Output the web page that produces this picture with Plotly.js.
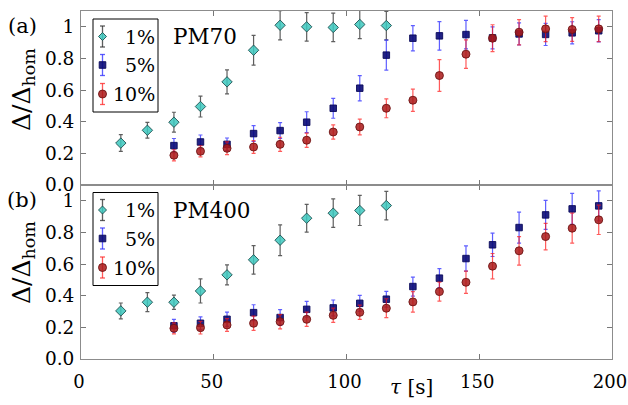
<!DOCTYPE html>
<html>
<head>
<meta charset="utf-8">
<script src="https://cdn.plot.ly/plotly-3.0.1.min.js"></script>
<style>html,body{margin:0;padding:0;background:#fff;}#chart{width:628px;height:405px;}</style>
</head>
<body>
<div id="chart"></div>
<script>
// ---- data ----
const tau1 = [15,25,35,45,55,65,75,85,95,105,115];
const tau510 = [35,45,55,65,75,85,95,105,115,125,135,145,155,165,175,185,195];

const seriesNames = ['1%','5%','10%'];
const panelLabels = ['(a)','(b)'];
const panelNames = ['PM70','PM400'];

// PM70 (panel a)
const a1 = [0.265,0.346,0.397,0.496,0.652,0.852,1.01,1.0,0.996,1.015,1.008];
const a1e = [0.053,0.05,0.063,0.066,0.076,0.094,0.093,0.09,0.09,0.09,0.09];
const a5 = [0.249,0.272,0.257,0.325,0.344,0.397,0.485,0.612,0.821,0.928,0.943,0.951,0.93,0.955,0.952,0.962,0.975];
const a5e = [0.045,0.044,0.04,0.05,0.05,0.066,0.063,0.08,0.095,0.08,0.09,0.09,0.07,0.07,0.07,0.07,0.07];
const a10 = [0.188,0.213,0.232,0.24,0.257,0.283,0.335,0.367,0.485,0.536,0.692,0.827,0.928,0.966,0.987,0.983,0.987];
const a10e = [0.035,0.035,0.04,0.04,0.045,0.045,0.045,0.05,0.06,0.07,0.1,0.09,0.085,0.08,0.08,0.075,0.08];

// PM400 (panel b)
const b1 = [0.304,0.359,0.359,0.430,0.532,0.627,0.751,0.890,0.922,0.939,0.970];
const b1e = [0.05,0.06,0.045,0.076,0.063,0.09,0.097,0.088,0.09,0.095,0.09];
const b5 = [0.21,0.226,0.251,0.293,0.262,0.314,0.323,0.352,0.378,0.458,0.511,0.635,0.722,0.831,0.911,0.949,0.968];
const b5e = [0.04,0.04,0.045,0.05,0.05,0.05,0.05,0.05,0.05,0.06,0.06,0.08,0.074,0.098,0.092,0.098,0.095];
const b10 = [0.194,0.198,0.215,0.226,0.236,0.251,0.276,0.295,0.321,0.361,0.426,0.485,0.587,0.684,0.774,0.827,0.880];
const b10e = [0.035,0.04,0.04,0.045,0.045,0.045,0.045,0.045,0.06,0.065,0.06,0.07,0.08,0.09,0.084,0.095,0.093];

const yTickVals = [0,0.2,0.4,0.6,0.8,1];
const yTickText = ['0.0','0.2','0.4','0.6','0.8','1'];

// ---- styles ----
const FONT = 'DejaVu Serif, Liberation Serif, Times New Roman, serif';
const FS = 18.5;
const styles = [
  {symbol:'diamond', size:8, fill:'rgba(60,200,190,0.85)', edge:'rgba(30,80,80,0.9)', err:'rgba(40,40,40,0.75)'},
  {symbol:'square', size:6.5, fill:'rgba(10,10,120,0.9)', edge:'rgba(10,10,90,0.9)', err:'rgba(40,40,255,0.75)'},
  {symbol:'circle', size:8, fill:'rgba(170,25,25,0.85)', edge:'rgba(110,20,20,0.9)', err:'rgba(255,20,20,0.7)'}
];

function tr(x, y, e, s, xa, ya) {
  const st = styles[s];
  return {
    type:'scatter', mode:'markers', x:x, y:y, xaxis:xa, yaxis:ya, showlegend:false,
    marker:{symbol:st.symbol, size:st.size, color:st.fill, line:{color:st.edge, width:1}},
    error_y:{type:'data', array:e, visible:true, color:st.err, thickness:1.2, width:2}
  };
}

const data = [
  tr(tau1, a1, a1e, 0, 'x2','y2'),
  tr(tau510, a5, a5e, 1, 'x2','y2'),
  tr(tau510, a10, a10e, 2, 'x2','y2'),
  tr(tau1, b1, b1e, 0, 'x','y'),
  tr(tau510, b5, b5e, 1, 'x','y'),
  tr(tau510, b10, b10e, 2, 'x','y')
];

// pixel -> paper helpers (plot area: x 81..612, y 11..359)
const L = 81, R = 612, T = 11, B = 359;
const PX = p => (p - L) / (R - L);
const PY = p => (B - p) / (B - T);

const shapes = [];
const annotations = [];

// manual legends (error bar glyph + marker)
[0, 173.5].forEach((off, pi) => {
  shapes.push({type:'rect', xref:'paper', yref:'paper', x0:PX(93), x1:PX(158), y0:PY(19+off), y1:PY(112+off),
    line:{color:'#000', width:1}, fillcolor:'rgba(255,255,255,1)', layer:'above'});
  const ys = [36.5, 65, 94];
  const sx = 102.5;
  ys.forEach((yy, i) => {
    const yc = yy + off, st = styles[i];
    shapes.push({type:'line', xref:'paper', yref:'paper', x0:PX(sx), x1:PX(sx), y0:PY(yc-10.5), y1:PY(yc+10.5), line:{color:st.err, width:1.3}, layer:'above'});
    [yc-10.5, yc+10.5].forEach(yv => shapes.push({type:'line', xref:'paper', yref:'paper', x0:PX(sx-2.5), x1:PX(sx+2.5), y0:PY(yv), y1:PY(yv), line:{color:st.err, width:1.3}, layer:'above'}));
    if (i === 0) {
      const d = 4;
      shapes.push({type:'path', xref:'paper', yref:'paper',
        path:`M ${PX(sx)} ${PY(yc-d)} L ${PX(sx+d)} ${PY(yc)} L ${PX(sx)} ${PY(yc+d)} L ${PX(sx-d)} ${PY(yc)} Z`,
        fillcolor:st.fill, line:{color:st.edge, width:1}, layer:'above'});
    } else if (i === 1) {
      const d = 3.3;
      shapes.push({type:'rect', xref:'paper', yref:'paper', x0:PX(sx-d), x1:PX(sx+d), y0:PY(yc-d), y1:PY(yc+d),
        fillcolor:st.fill, line:{color:st.edge, width:1}, layer:'above'});
    } else {
      const d = 4;
      shapes.push({type:'circle', xref:'paper', yref:'paper', x0:PX(sx-d), x1:PX(sx+d), y0:PY(yc-d), y1:PY(yc+d),
        fillcolor:st.fill, line:{color:st.edge, width:1}, layer:'above'});
    }
    annotations.push({xref:'paper', yref:'paper', x:PX(156.5), y:PY(yc), xanchor:'right', yanchor:'middle',
      text:seriesNames[i], showarrow:false, font:{family:FONT, size:19, color:'#000'}});
  });
  annotations.push({xref:'paper', yref:'paper', x:PX(22), y:PY(26+off), xanchor:'center', yanchor:'middle',
    text:panelLabels[pi], showarrow:false, font:{family:FONT, size:21, color:'#000'}});
  annotations.push({xref:'paper', yref:'paper', x:PX(171), y:PY(36.5+off), xanchor:'left', yanchor:'middle',
    text:panelNames[pi], showarrow:false, font:{family:FONT, size:21.5, color:'#000'}});
});

// y-axis titles as annotations
[90, 263].forEach(yc => {
  annotations.push({xref:'paper', yref:'paper', x:PX(23), y:PY(yc), xanchor:'center', yanchor:'middle', textangle:-90,
    text:'Δ/Δ<sub>hom</sub>', showarrow:false, font:{family:FONT, size:25, color:'#000'}});
});
// x-axis title
annotations.push({xref:'paper', yref:'paper', x:PX(411), y:PY(387), xanchor:'center', yanchor:'middle',
  text:'<i>τ</i> [s]', showarrow:false, font:{family:FONT, size:20, color:'#000'}});

const axBase = {
  showline:true, mirror:'ticks', linecolor:'#8c8c8c', linewidth:1,
  ticks:'inside', ticklen:5, tickcolor:'#777', tickwidth:1,
  showgrid:false, zeroline:false, ticklabeloverflow:'allow',
  tickfont:{family:FONT, size:FS, color:'#000'}
};

const layout = {
  width:628, height:405,
  margin:{l:L, r:628-R, t:T, b:405-B},
  paper_bgcolor:'#fff', plot_bgcolor:'#fff',
  showlegend:false,
  xaxis: Object.assign({}, axBase, {domain:[0,1], range:[0,200], anchor:'y', tickmode:'linear', tick0:0, dtick:50,
    ticklabelstandoff:6, ticklabelshift:-2, tickfont:{family:FONT, size:18, color:'#000'}}),
  yaxis: Object.assign({}, axBase, {domain:[0,0.5], range:[0,1.1], anchor:'x', tickvals:yTickVals, ticktext:yTickText, ticklabelstandoff:2}),
  xaxis2: Object.assign({}, axBase, {domain:[0,1], range:[0,200], anchor:'y2', tickmode:'linear', tick0:0, dtick:50, showticklabels:false}),
  yaxis2: Object.assign({}, axBase, {domain:[0.5,1], range:[0,1.1], anchor:'x2', tickvals:yTickVals, ticktext:yTickText, ticklabelstandoff:2}),
  shapes:shapes,
  annotations:annotations
};

Plotly.newPlot('chart', data, layout, {displayModeBar:false, staticPlot:true});
</script>
</body>
</html>
